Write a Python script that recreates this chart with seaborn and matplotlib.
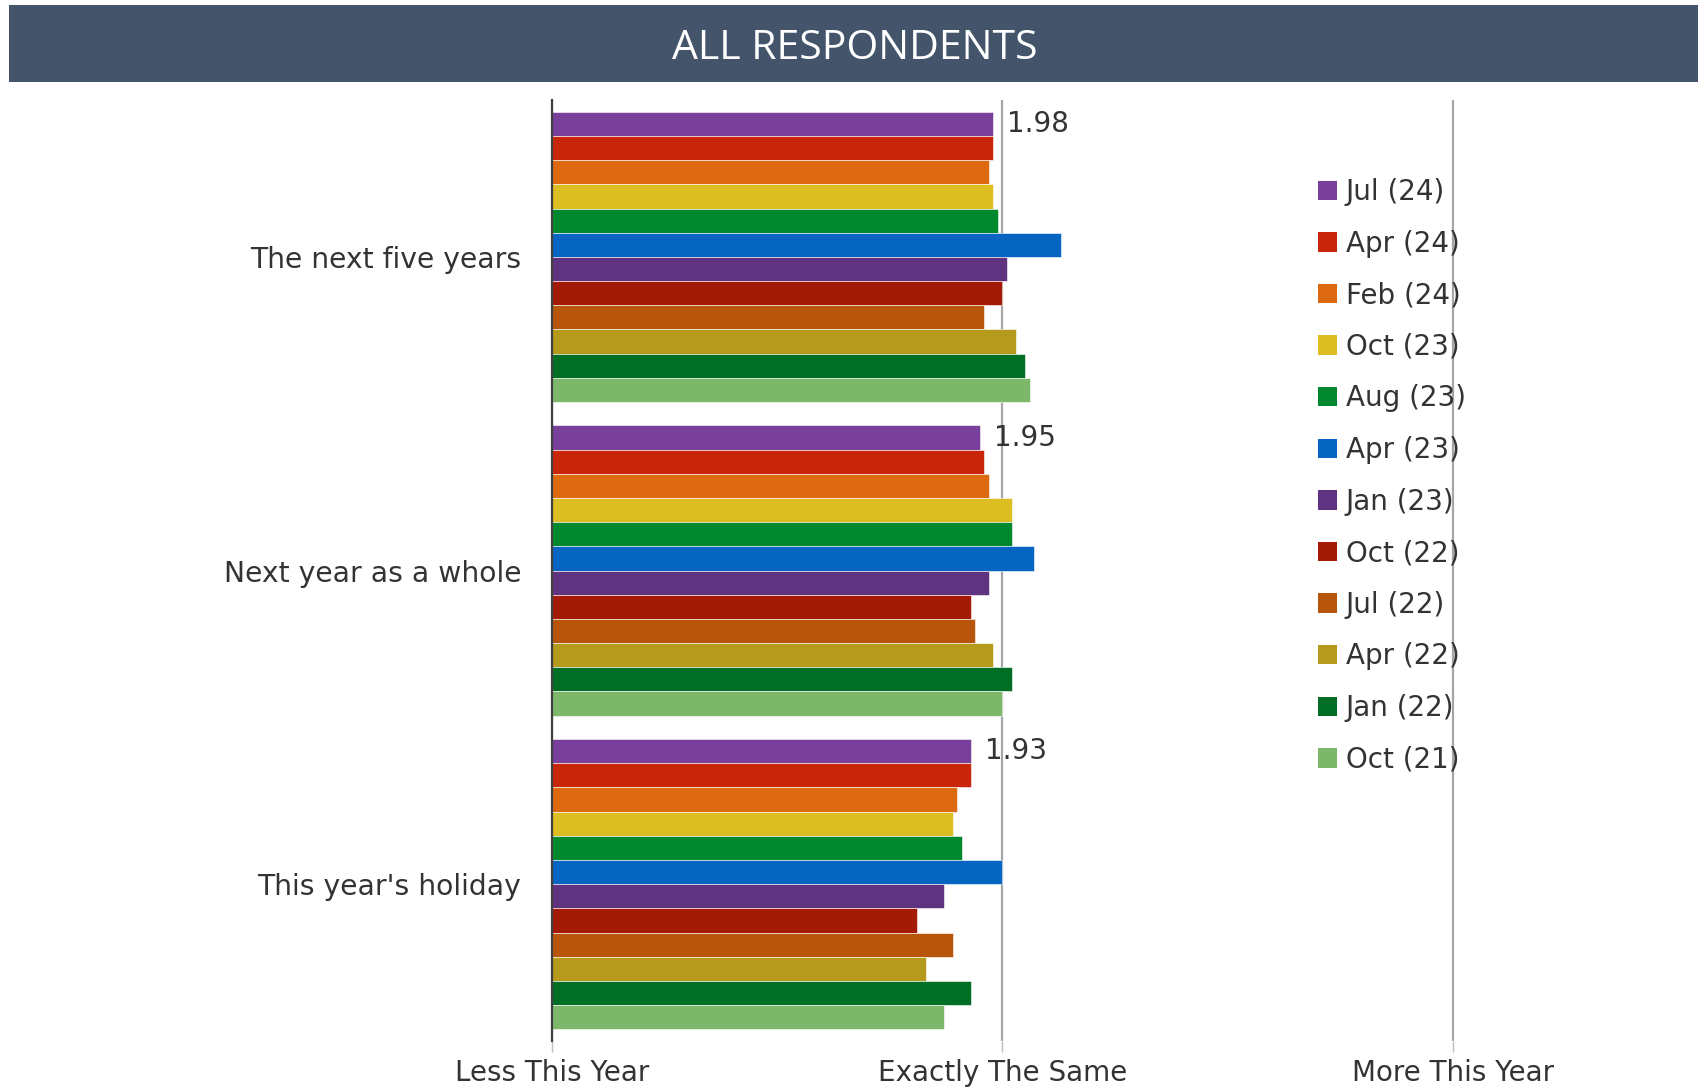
import numpy as np
import pandas as pd
import matplotlib.pyplot as plt
from matplotlib.patches import Rectangle, Patch
import seaborn as sns

# questions, top to bottom
categories = ["The next five years", "Next year as a whole", "This year's holiday"]

# survey waves (legend order = bar order inside each group)
waves = ["Jul (24)", "Apr (24)", "Feb (24)", "Oct (23)", "Aug (23)", "Apr (23)",
         "Jan (23)", "Oct (22)", "Jul (22)", "Apr (22)", "Jan (22)", "Oct (21)"]
wave_colors = ["#783F9B", "#C8260A", "#DD6A10", "#DCBD22", "#00882E", "#0565C0",
               "#603380", "#A31B06", "#B7560A", "#B59A1C", "#006E25", "#7DB76A"]

# mean scores, 1 = less, 2 = same, 3 = more
five_years = [1.98, 1.98, 1.97, 1.98, 1.99, 2.13, 2.01, 2.00, 1.96, 2.03, 2.05, 2.06]
next_year = [1.95, 1.96, 1.97, 2.02, 2.02, 2.07, 1.97, 1.93, 1.94, 1.98, 2.02, 2.00]
holiday = [1.93, 1.93, 1.90, 1.89, 1.91, 2.00, 1.87, 1.81, 1.89, 1.83, 1.93, 1.87]

scale_labels = ["Less This Year", "Exactly The Same", "More This Year"]
baseline = 1.0

rows = []
for cat, vals in zip(categories, [five_years, next_year, holiday]):
    for w, v in zip(waves, vals):
        rows.append({'category': cat, 'wave': w, 'score': v})
df = pd.DataFrame(rows)
# bars grow from the bottom of the scale (1), so plot the distance from it
df['offset'] = df['score'] - baseline

sns.set_theme(style='white')
plt.rcParams['font.family'] = ['DejaVu Sans']
text_col = '#333333'

fig = plt.figure(figsize=(16.99, 10.91), dpi=100)

# header band
fig.add_artist(Rectangle((8.7 / 1699, 1 - 82.3 / 1091), 1 - 8.7 / 1699, 77 / 1091,
                         transform=fig.transFigure, color='#44546A', lw=0))
fig.text(0.503, 0.9555, 'ALL RESPONDENTS', ha='center', va='center',
         color='white', fontsize=29.5, family=['Open Sans', 'DejaVu Sans'])

ax = fig.add_axes([552 / 1699, 0.0458, 905.5 / 1699, 0.8625])
sns.barplot(data=df, y='category', x='offset', hue='wave', order=categories,
            hue_order=waves, palette=wave_colors, orient='h', width=0.925,
            saturation=1, errorbar=None, edgecolor='white', linewidth=0.4,
            legend=False, ax=ax)

ax.set_xlim(0, 2.01)
ax.set_xticks([0, 1, 2])
ax.set_xticklabels(scale_labels, fontsize=20, color=text_col)
ax.set_xlabel('')
ax.set_ylabel('')
ax.tick_params(axis='x', bottom=True, length=8, width=1, color='#BFBFBF', pad=5)
ax.tick_params(axis='y', length=0, pad=22, labelsize=20.3, labelcolor=text_col)

ax.grid(axis='x', color='#A6A6A6', lw=1.6)
ax.grid(axis='y', visible=False)
ax.set_axisbelow(True)
for s in ['top', 'right', 'bottom']:
    ax.spines[s].set_visible(False)
ax.spines['left'].set_color('#404040')
ax.spines['left'].set_linewidth(1.6)

# value label on the latest wave only
latest = ax.containers[0]
ax.bar_label(latest, labels=[f'{v + baseline:.2f}' for v in latest.datavalues],
             padding=10, fontsize=20, color=text_col)

handles = [Patch(facecolor=c, edgecolor='none', label=w) for w, c in zip(waves, wave_colors)]
fig.legend(handles=handles, loc='upper left', bbox_to_anchor=(1318 / 1699, 1 - 178 / 1091),
           frameon=False, fontsize=20, handlelength=0.7, handleheight=0.7,
           handletextpad=0.3, labelspacing=0.85, borderpad=0, borderaxespad=0,
           labelcolor=text_col)

fig.savefig('out.png', dpi=100)
